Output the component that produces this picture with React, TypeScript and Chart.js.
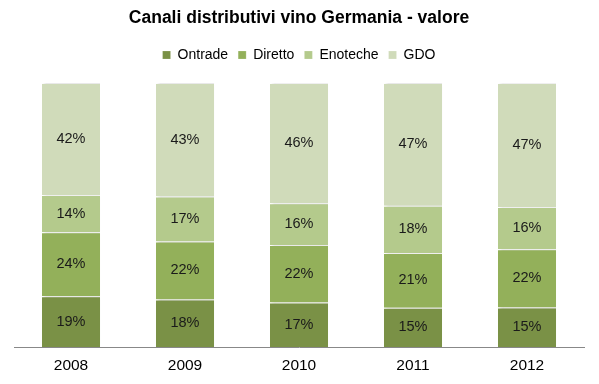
import React, { useEffect, useRef } from "react";
import { Chart, registerables } from "chart.js";

Chart.register(...registerables);

const categories = ["2008", "2009", "2010", "2011", "2012"];
const ontrade = [19, 18, 17, 15, 15];
const diretto = [24, 22, 22, 21, 22];
const enoteche = [14, 17, 16, 18, 16];
const gdo = [42, 43, 46, 47, 47];
const seriesNames = ["Ontrade", "Diretto", "Enoteche", "GDO"];
const seriesColors = ["#7A9146", "#93B05A", "#B4CA8C", "#D0DBBA"];

const FONT = "'Liberation Sans', Arial, sans-serif";

export default function App() {
  const ref = useRef<HTMLCanvasElement | null>(null);
  useEffect(() => {
    const raw = [ontrade, diretto, enoteche, gdo];
    const totals = categories.map((_, i) => raw.reduce((s, a) => s + a[i], 0));
    const legendGap = {
      id: "legendGap",
      beforeInit(chart: any) {
        const lg = chart.legend;
        if (!lg) return;
        const orig = lg.fit;
        lg.fit = function () {
          orig.call(this);
          this.height += 11;
        };
      },
    };
    const shadowPlugin = {
      id: "barShadow",
      beforeDatasetsDraw(chart: any) {
        const ctx = chart.ctx;
        ctx.save();
        ctx.shadowColor = "rgba(0,0,0,0.22)";
        ctx.shadowBlur = 3;
        ctx.shadowOffsetX = 2;
        ctx.shadowOffsetY = 0;
      },
      afterDatasetsDraw(chart: any) {
        chart.ctx.restore();
      },
    };
    const labelPlugin = {
      id: "segLabels",
      afterDatasetsDraw(chart: any) {
        const ctx = chart.ctx;
        ctx.save();
        ctx.shadowColor = "transparent";
        ctx.font = `14.5px ${FONT}`;
        ctx.fillStyle = "#1a1a1a";
        ctx.textAlign = "center";
        ctx.textBaseline = "middle";
        chart.data.datasets.forEach((ds: any, di: number) => {
          const meta = chart.getDatasetMeta(di);
          meta.data.forEach((el: any, i: number) => {
            const y = (el.y + el.base) / 2;
            ctx.fillText(`${ds.rawValues[i]}%`, el.x, y);
          });
        });
        ctx.restore();
      },
    };
    const chart = new Chart(ref.current!, {
      type: "bar",
      data: {
        labels: categories,
        datasets: raw.map((arr, k) => ({
          label: seriesNames[k],
          data: arr.map((v, i) => (v / totals[i]) * 100),
          rawValues: arr,
          backgroundColor: seriesColors[k],
          borderColor: "rgba(255,255,255,0.75)",
          borderWidth: { top: 1, bottom: 0, left: 0, right: 0 },
          borderSkipped: false,
          barPercentage: 0.51,
          categoryPercentage: 1,
        })) as any,
      },
      options: {
        animation: false,
        responsive: false,
        layout: { padding: { left: 14, right: 15, top: 0, bottom: 8.4 } },
        plugins: {
          title: {
            display: true,
            text: "Canali distributivi vino Germania - valore",
            color: "#000",
            font: { family: FONT, size: 17.5, weight: "bold" },
            padding: { top: 8, bottom: 9 },
          },
          legend: {
            display: true,
            labels: {
              boxWidth: 8,
              boxHeight: 8,
              color: "#000",
              font: { family: FONT, size: 14 },
              padding: 10,
            },
          },
          tooltip: { enabled: false },
        },
        scales: {
          x: {
            stacked: true,
            grid: { display: false },
            border: { color: "#888", width: 1 },
            ticks: { color: "#000", font: { family: FONT, size: 15.5 }, padding: 1 },
          },
          y: {
            stacked: true,
            display: false,
            min: 0,
            max: 100,
          },
        },
      },
      plugins: [legendGap, shadowPlugin, labelPlugin],
    });
    return () => chart.destroy();
  }, []);
  return (
    <div style={{ position: "absolute", left: 0, top: 0, width: 599, height: 384, background: "#fff" }}>
      <canvas ref={ref} width={599} height={384} />
    </div>
  );
}
